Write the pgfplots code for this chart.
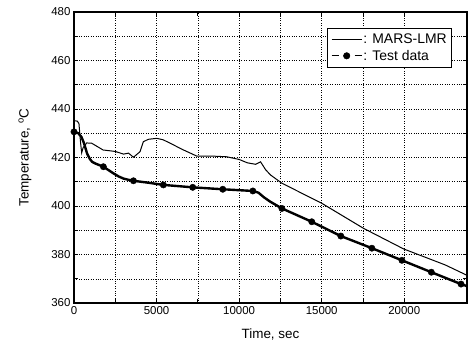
\documentclass[border=0pt]{standalone}
\usepackage{fontspec}
\setmainfont{Liberation Sans}
\usepackage{pgfplots}
\pgfplotsset{compat=1.18}
\begin{document}
\begin{tikzpicture}
\begin{axis}[
  scale only axis,
  width=393bp, height=291bp,
  xmin=0, xmax=23800, ymin=360, ymax=480,
  xtick={0,5000,10000,15000,20000},
  ytick={360,380,400,420,440,460,480},
  minor x tick num=1, minor y tick num=1,
  grid=both,
  major grid style={black, dotted, line width=0.5pt},
  minor grid style={black, dotted, line width=0.5pt},
  tick align=inside,
  major tick length=4bp, minor tick length=4bp,
  tick style={black, line width=0.8pt},
  axis line style={black, line width=1.3pt},
  scaled x ticks=false,
  xticklabel style={/pgf/number format/1000 sep={}},
  /pgf/number format/assume math mode=true,
  tick label style={font=\fontsize{11.5}{13}\selectfont},
  label style={font=\fontsize{13.5}{16}\selectfont},
  xlabel={Time, sec},
  ylabel={Temperature, \textsuperscript{o}C},
  xlabel style={yshift=-7bp},
  ylabel style={yshift=13bp},
  legend style={at={(0.962,0.945)}, anchor=north east, draw=black, line width=0.6pt,
    font=\fontsize{14}{16}\selectfont, inner xsep=4bp, inner ysep=3.5bp, row sep=1bp, fill=white,
    nodes={inner xsep=1bp}},
  legend cell align=left,
]
\addplot[black, line width=1pt,
  legend image code/.code={
    \draw[black, line width=1pt] (0bp,0bp) -- (30bp,0bp);
  }] coordinates {
(0,435.2) (200,435.0) (300,434.0) (400,426) (466,421.9) (550,424) (770,426)
(1070,425.9) (1760,423.1) (2500,422.5) (3000,421.4) (3300,421.8) (3600,420.1)
(4000,422.4) (4200,426.5) (4500,427.5) (5010,427.9) (5400,427.3) (5820,425.9)
(6600,423.2) (7430,420.6) (8300,420.6) (9250,420.3) (10000,419.2) (10500,417.8)
(11000,417.2) (11300,418.2) (11600,415.0) (11900,412.8) (12590,409.4)
(15010,401.1) (17530,390.8) (19960,382.3) (22480,375.7) (23900,371.1)
};
\addlegendentry{: MARS-LMR}
\addplot[black, line width=2.4pt, forget plot, line join=round] coordinates {
(0,430.6) (260,430.0) (450,428.5) (600,426.0) (800,421.5) (970,419.3) (1100,418.2)
(1300,417.5) (1780,416.2) (2000,415.2) (2380,413.5) (2700,412.2) (3000,411.3)
(3300,410.8) (3600,410.4) (4500,409.6) (5410,408.7) (7190,407.7)
(9010,406.9) (10830,406.2) (11170,405.5) (11500,403.6) (11880,401.8) (12590,399.0) (14400,393.5)
(16160,387.6) (18040,382.6) (19860,377.6) (21640,372.7) (23440,367.8) (23900,366.7)
};
\addplot[black, only marks, mark=*, mark size=3.2pt,
  legend image code/.code={
    \draw[black, line width=1.3pt] (0bp,0bp) -- (7bp,0bp);
    \fill[black] (15bp,0bp) circle (3.2bp);
    \draw[black, line width=1.3pt] (23bp,0bp) -- (30bp,0bp);
  }] coordinates {
(0,430.6) (1780,416.2) (3600,410.4) (5410,408.7) (7190,407.7) (9010,406.9)
(10830,406.2) (12590,399.0) (14400,393.5) (16160,387.6) (18040,382.6)
(19860,377.6) (21640,372.7) (23440,367.8)
};
\addlegendentry{: Test data}
\coordinate (ll) at (rel axis cs:0,0);
\coordinate (ur) at (rel axis cs:1,1);
\end{axis}
\pgfresetboundingbox
\path[use as bounding box] ([xshift=-74bp,yshift=-44bp]ll) rectangle ([xshift=1bp,yshift=12bp]ur);
\end{tikzpicture}
\end{document}
